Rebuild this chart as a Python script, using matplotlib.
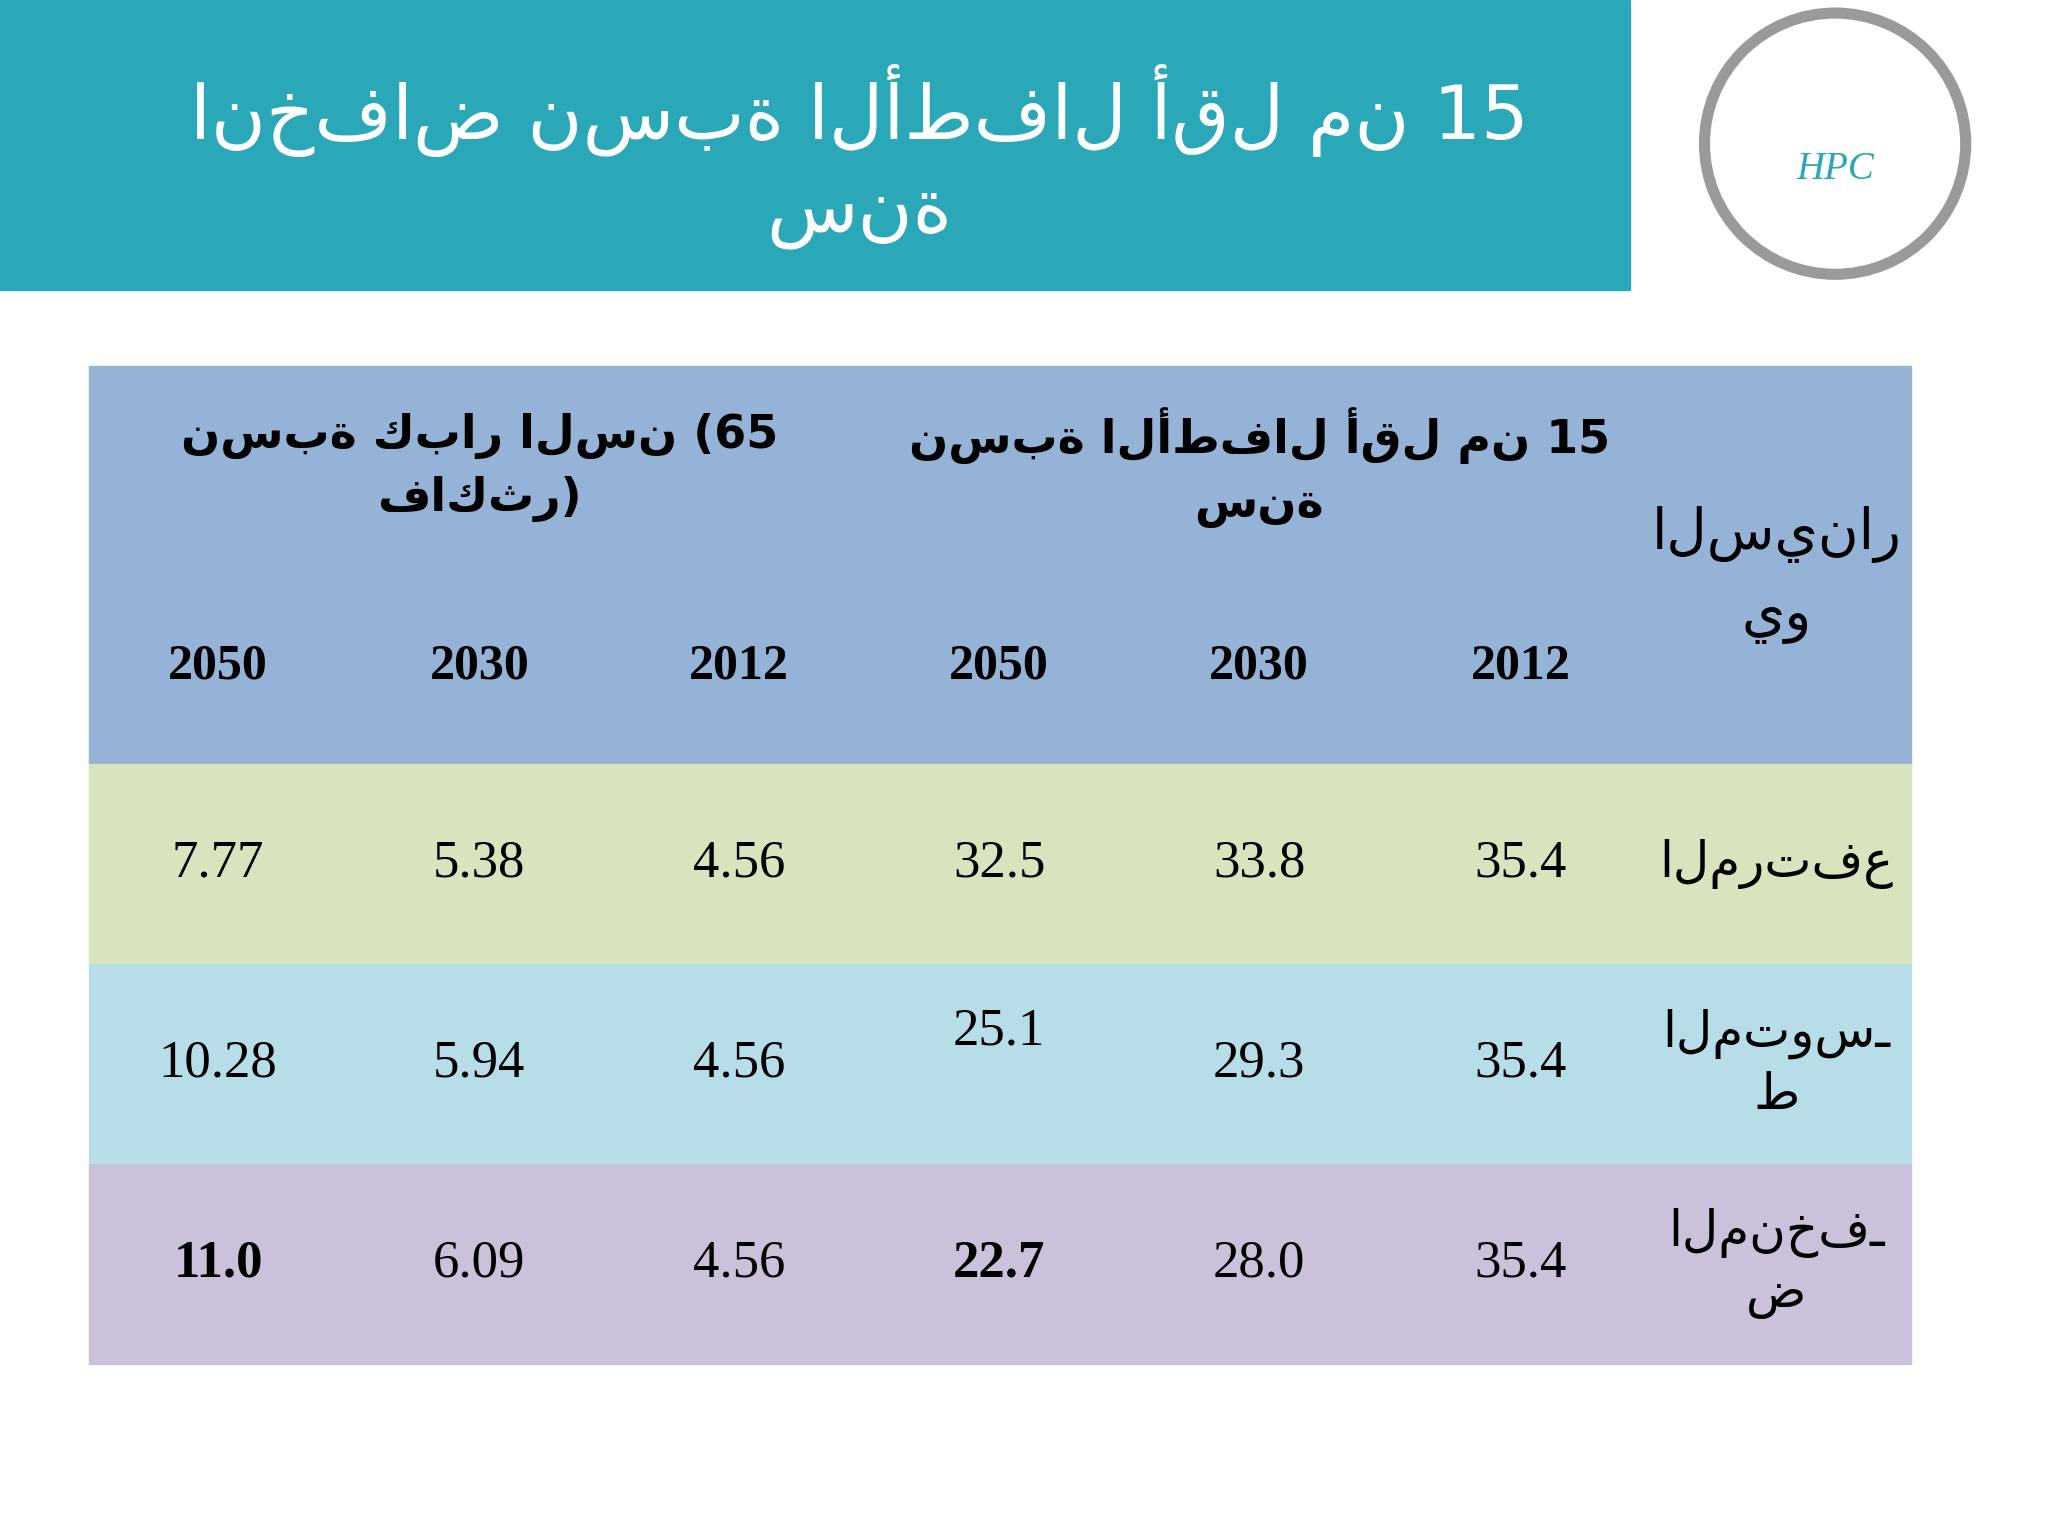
import matplotlib
matplotlib.use("Agg")
import matplotlib.pyplot as plt
from matplotlib.patches import Rectangle, Circle

plt.rcParams['font.family'] = ['DejaVu Sans', 'Noto Sans']

title = "انخفاض نسبة الأطفال أقل من 15\nسنة"
scenario_header = "السينار\nيو"
group_headers = ["نسبة الأطفال أقل من 15\nسنة", "نسبة كبار السن (65\nفاكثر)"]
years = ["2012", "2030", "2050"]
scenarios = ["المرتفع", "المتوسـ\nط", "المنخفـ\nض"]
children = [["35.4", "33.8", "32.5"], ["35.4", "29.3", "25.1"], ["35.4", "28.0", "22.7"]]
elderly = [["4.56", "5.38", "7.77"], ["4.56", "5.94", "10.28"], ["4.56", "6.09", "11.0"]]

W, H = 1568, 1176
fig = plt.figure(figsize=(20.48, 15.36), dpi=100)
ax = fig.add_axes([0, 0, 1, 1])
ax.set_xlim(0, W); ax.set_ylim(H, 0); ax.axis('off')

# banner
ax.add_patch(Rectangle((0, 0), 1248, 222, color='#2ba8b8'))
ax.text(658, 120, title, ha='center', va='center', color='white', fontsize=54, linespacing=1.3)
# logo
ax.add_patch(Circle((1405, 110), 100, fill=False, ec='#9a9a9a', lw=8))
ax.text(1405, 130, "HPC", ha='center', va='center', color='#2ba8b8', fontsize=28, style='italic', family='Liberation Serif')

# table background
x0, x1 = 68, 1463
rows_y = [280, 585, 738, 891, 1044]
colors = ['#95b3d7', '#d7e4bd', '#b7dee8', '#ccc1da']
for i, c in enumerate(colors):
    ax.add_patch(Rectangle((x0, rows_y[i]), x1 - x0, rows_y[i + 1] - rows_y[i], color=c))

col_x = [1164, 964, 765, 566, 367, 167]
ax.text(1360, 440, scenario_header, ha='center', va='center', fontsize=40, linespacing=1.6)
ax.text(964, 358, group_headers[0], ha='center', va='center', fontsize=33, fontweight='bold', linespacing=1.5)
ax.text(367, 358, group_headers[1], ha='center', va='center', fontsize=33, fontweight='bold', linespacing=1.5)
for j in range(6):
    ax.text(col_x[j], 510, years[j % 3], ha='center', va='center', fontsize=36,
            fontweight='bold', family='Liberation Serif')

for i, s in enumerate(scenarios):
    yc = (rows_y[i + 1] + rows_y[i + 2]) / 2
    ax.text(1360, yc, s, ha='center', va='center', fontsize=36, linespacing=1.3)
    vals = children[i] + elderly[i]
    for j, v in enumerate(vals):
        bold = (i == 2 and j in (2, 5))
        yy = yc - 25 if (i == 1 and j == 2) else yc
        ax.text(col_x[j], yy, v, ha='center', va='center', fontsize=38,
                fontweight='bold' if bold else 'normal', family='Liberation Serif')

fig.savefig("out.png", dpi=100)
